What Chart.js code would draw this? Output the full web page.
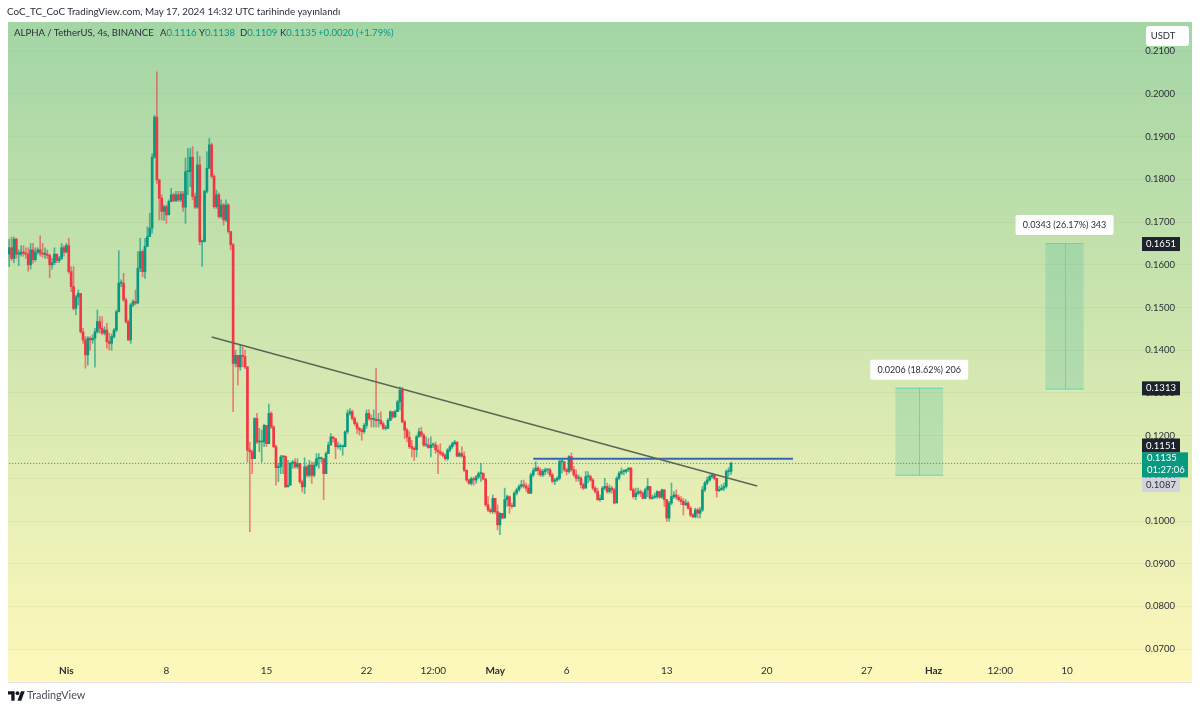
<!DOCTYPE html>
<html lang="tr">
<head>
<meta charset="UTF-8">
<title>ALPHA / TetherUS</title>
<script src="https://cdn.jsdelivr.net/npm/chart.js"></script>
<style>
  html, body { margin: 0; background: #fff; }
  #wrap { position: relative; width: 1200px; height: 710px; overflow: hidden; font-family: Lato, sans-serif; color: #2a2e39; }
  canvas { position: absolute; left: 0; top: 0; }
  .txt { position: absolute; white-space: pre; font-size: 9.8px; line-height: 12px; }
  .up { color: #089981; }
  .leg { top: 27px; font-size: 9.600px; }
</style>
</head>
<body>
<div id="wrap">
  <canvas id="grafik" width="1200" height="710"></canvas>
  <div class="txt" style="left:7px;top:5px">CoC_TC_CoC TradingView.com, May 17, 2024 14:32 UTC tarihinde yayınlandı</div>
  <div class="txt leg" style="left:14px">ALPHA / TetherUS, 4s, BINANCE</div>
  <div class="txt leg" style="left:160px">A<span class="up">0.1116</span></div>
  <div class="txt leg" style="left:199px">Y<span class="up">0.1138</span></div>
  <div class="txt leg" style="left:240px">D<span class="up">0.1109</span></div>
  <div class="txt leg" style="left:280px">K<span class="up">0.1135</span></div>
  <div class="txt leg up" style="left:318px">+0.0020 (+1.79%)</div>
  <svg style="position:absolute;left:8px;top:691px" width="17" height="10" viewBox="0 0 36 20"><path fill="#131722" d="M14 20H7V7H0V0h14zM28 20h-8L27.500 0h8z"/><circle fill="#131722" cx="20" cy="4" r="4"/></svg>
  <div class="txt" style="left:27px;top:689px;font-size:10.800px;color:#4a4e59">TradingView</div>
</div>

<script>
// 4h candles, one slot per 4 hours from 28 Mar
const slotCount = 497;
const categories = [];
for (let i = 0; i < slotCount; i++) {
  categories.push(new Date(Date.UTC(2024, 2, 28, i * 4)).toISOString());
}

const closes = [
  .1640,.1615,.1660,.1625,.1625,.1630,.1627,.1625,.1600,.1635,
  .1612,.1630,.1635,.1627,.1625,.1625,.1622,.1600,.1605,.1625,
  .1610,.1615,.1640,.1630,.1645,.1584,.1549,.1498,.1525,.1533,
  .1443,.1424,.1389,.1428,.1424,.1428,.1443,.1467,.1451,.1440,
  .1447,.1420,.1416,.1432,.1447,.1490,.1557,.1557,.1518,.1467,
  .1424,.1506,.1514,.1510,.1592,.1631,.1584,.1643,.1666,.1686,
  .1852,.1946,.1799,.1756,.1725,.1736,.1717,.1748,.1764,.1750,
  .1764,.1752,.1766,.1735,.1818,.1818,.1852,.1760,.1735,.1834,
  .1654,.1654,.1772,.1826,.1881,.1807,.1736,.1764,.1713,.1740,
  .1705,.1740,.1678,.1647,.1369,.1388,.1361,.1388,.1385,.1361,
  .1166,.1162,.1146,.1240,.1185,.1185,.1185,.1224,.1181,.1252,
  .1220,.1174,.1125,.1127,.1150,.1152,.1080,.1084,.1135,.1138,
  .1127,.1135,.1092,.1080,.1127,.1107,.1131,.1107,.1131,.1146,
  .1146,.1146,.1111,.1158,.1178,.1197,.1193,.1174,.1174,.1174,
  .1174,.1209,.1252,.1256,.1240,.1228,.1217,.1213,.1209,.1224,
  .1252,.1240,.1238,.1238,.1235,.1236,.1228,.1217,.1217,.1236,
  .1256,.1244,.1256,.1279,.1306,.1232,.1213,.1196,.1174,.1170,
  .1167,.1197,.1209,.1201,.1178,.1178,.1172,.1178,.1178,.1166,
  .1162,.1158,.1154,.1146,.1166,.1174,.1181,.1185,.1152,.1158,
  .1152,.1119,.1096,.1088,.1099,.1096,.1103,.1111,.1112,.1098,
  .1038,.1026,.1022,.1053,.1022,.0991,.1018,.1007,.1050,.1057,
  .1036,.1034,.1065,.1073,.1081,.1085,.1082,.1077,.1065,.1108,
  .1118,.1124,.1118,.1108,.1116,.1120,.1120,.1108,.1093,.1096,
  .1100,.1139,.1139,.1120,.1116,.1151,.1120,.1108,.1100,.1100,
  .1085,.1077,.1104,.1104,.1096,.1077,.1069,.1050,.1050,.1077,
  .1081,.1069,.1077,.1073,.1042,.1100,.1112,.1116,.1116,.1120,
  .1124,.1073,.1057,.1065,.1069,.1065,.1053,.1073,.1081,.1053,
  .1056,.1057,.1069,.1056,.1073,.1050,.1007,.1042,.1057,.1061,
  .1056,.1050,.1046,.1038,.1042,.1030,.1014,.1010,.1026,.1018,
  .1026,.1073,.1089,.1096,.1104,.1108,.1100,.1071,.1073,.1077,
  .1081,.1116,.1116,.1135
];
const highs = [
  .1660,.1665,.1665,.1662,.1635,.1645,.1645,.1640,.1640,.1650,
  .1650,.1640,.1640,.1668,.1650,.1640,.1635,.1625,.1615,.1640,
  .1625,.1620,.1650,.1645,.1650,.1662,.1596,.1596,.1529,.1541,
  .1533,.1451,.1432,.1432,.1432,.1436,.1451,.1494,.1479,.1479,
  .1455,.1463,.1440,.1438,.1451,.1494,.1633,.1565,.1580,.1522,
  .1471,.1510,.1518,.1541,.1631,.1662,.1635,.1662,.1689,.1721,
  .1860,.1950,.2052,.1799,.1764,.1740,.1740,.1752,.1779,.1768,
  .1772,.1772,.1772,.1772,.1850,.1873,.1873,.1877,.1768,.1865,
  .1854,.1658,.1775,.1865,.1896,.1885,.1811,.1775,.1768,.1752,
  .1744,.1752,.1744,.1678,.1650,.1400,.1388,.1412,.1408,.1400,
  .1361,.1185,.1166,.1242,.1252,.1217,.1213,.1227,.1224,.1274,
  .1256,.1224,.1178,.1135,.1154,.1154,.1146,.1142,.1138,.1142,
  .1146,.1146,.1135,.1096,.1148,.1131,.1142,.1138,.1138,.1158,
  .1158,.1150,.1146,.1162,.1185,.1205,.1197,.1193,.1185,.1181,
  .1178,.1211,.1260,.1263,.1260,.1244,.1232,.1220,.1217,.1228,
  .1260,.1261,.1248,.1260,.1357,.1252,.1256,.1232,.1224,.1240,
  .1258,.1256,.1260,.1283,.1314,.1313,.1236,.1217,.1209,.1189,
  .1174,.1201,.1217,.1220,.1205,.1197,.1193,.1197,.1183,.1185,
  .1178,.1181,.1162,.1158,.1170,.1178,.1185,.1189,.1185,.1162,
  .1174,.1162,.1119,.1099,.1103,.1103,.1107,.1115,.1135,.1112,
  .1100,.1057,.1030,.1061,.1053,.1038,.1020,.1018,.1077,.1061,
  .1059,.1042,.1069,.1077,.1085,.1095,.1096,.1089,.1085,.1112,
  .1124,.1139,.1128,.1124,.1121,.1124,.1121,.1124,.1112,.1100,
  .1104,.1143,.1143,.1139,.1124,.1153,.1159,.1128,.1120,.1108,
  .1104,.1089,.1116,.1116,.1108,.1100,.1081,.1077,.1061,.1081,
  .1100,.1089,.1085,.1081,.1077,.1104,.1116,.1124,.1120,.1121,
  .1125,.1125,.1077,.1077,.1077,.1073,.1069,.1077,.1100,.1077,
  .1061,.1065,.1071,.1069,.1075,.1073,.1050,.1046,.1089,.1069,
  .1073,.1061,.1057,.1053,.1050,.1046,.1034,.1018,.1030,.1030,
  .1032,.1081,.1093,.1103,.1108,.1112,.1108,.1100,.1081,.1085,
  .1089,.1120,.1125,.1138
];
const lows = [
  .1596,.1610,.1605,.1615,.1598,.1620,.1620,.1615,.1585,.1590,
  .1603,.1608,.1625,.1620,.1618,.1615,.1615,.1570,.1590,.1600,
  .1605,.1605,.1612,.1620,.1628,.1580,.1537,.1494,.1483,.1506,
  .1440,.1416,.1358,.1365,.1400,.1416,.1360,.1440,.1440,.1436,
  .1436,.1404,.1400,.1400,.1428,.1443,.1490,.1549,.1514,.1463,
  .1422,.1416,.1502,.1506,.1510,.1584,.1572,.1568,.1643,.1674,
  .1674,.1850,.1790,.1705,.1705,.1704,.1697,.1717,.1748,.1748,
  .1748,.1748,.1748,.1725,.1697,.1764,.1783,.1752,.1732,.1732,
  .1647,.1596,.1654,.1768,.1826,.1803,.1732,.1732,.1709,.1709,
  .1693,.1701,.1674,.1635,.1256,.1361,.1318,.1353,.1361,.1357,
  .1138,.0975,.1111,.1146,.1181,.1162,.1138,.1174,.1174,.1181,
  .1217,.1172,.1084,.1092,.1111,.1111,.1078,.1080,.1084,.1123,
  .1123,.1123,.1088,.1068,.1064,.1103,.1103,.1088,.1103,.1127,
  .1123,.1138,.1050,.1111,.1158,.1178,.1185,.1146,.1170,.1166,
  .1154,.1174,.1205,.1248,.1236,.1224,.1205,.1201,.1189,.1205,
  .1217,.1236,.1220,.1220,.1220,.1220,.1224,.1214,.1213,.1217,
  .1235,.1240,.1242,.1256,.1260,.1230,.1193,.1185,.1170,.1150,
  .1142,.1150,.1197,.1197,.1174,.1174,.1170,.1150,.1172,.1158,
  .1111,.1154,.1150,.1142,.1142,.1162,.1170,.1178,.1150,.1150,
  .1149,.1115,.1092,.1086,.1084,.1084,.1088,.1099,.1093,.1096,
  .1034,.1022,.1018,.1018,.1018,.0979,.0968,.1005,.1007,.1034,
  .1018,.1030,.1034,.1061,.1069,.1077,.1077,.1069,.1064,.1064,
  .1104,.1116,.1108,.1104,.1104,.1108,.1112,.1104,.1089,.1085,
  .1093,.1096,.1112,.1116,.1108,.1112,.1116,.1104,.1093,.1093,
  .1077,.1073,.1077,.1089,.1093,.1073,.1065,.1048,.1046,.1050,
  .1073,.1065,.1065,.1065,.1040,.1061,.1096,.1108,.1108,.1112,
  .1116,.1071,.1053,.1050,.1061,.1057,.1052,.1053,.1057,.1051,
  .1051,.1053,.1053,.1053,.1053,.1034,.0999,.0999,.1038,.1053,
  .1051,.1046,.1038,.1014,.1036,.1028,.1010,.1007,.1007,.1007,
  .1007,.1022,.1069,.1085,.1093,.1100,.1096,.1056,.1069,.1073,
  .1071,.1077,.1105,.1109
];
const firstOpen = .1625;
const opens = closes.map((c, i) => i ? closes[i - 1] : firstOpen);

const priceTicks = [.07,.08,.09,.10,.11,.12,.13,.14,.15,.16,.17,.18,.19,.20,.21];
const tickSlots = [24,66,108,150,178,204,234,276,318,360,388,416,444];
const tickLabels = ['Nis','8','15','22','12:00','May','6','13','20','27','Haz','12:00','10'];
const boldTicks = ['Nis','May','Haz'];

const trendSlots = [85, 314];
const trendValues = [.1431, .1082];
const levelSlots = [220, 329];
const levelValues = [.1146, .1146];
const lastPrice = .1135;

const measureStart = [372, 435];
const measureEnd = [392, 451];
const measureFrom = [.1106, .1308];
const measureTo = [.1312, .1651];
const measureText = ['0.0206 (18.62%) 206', '0.0343 (26.17%) 343'];

const axisPrices = [.1651, .1313, .1151, .1087];

const UP = '#089981', DOWN = '#f23645';
const FONT = 'Lato, sans-serif';

// background and measure boxes go under the candles
const fondo = {
  id: 'fondo',
  beforeDraw(chart) {
    const c = chart.ctx, y = chart.scales.y, x = chart.scales.x;
    const g = c.createLinearGradient(0, 22, 0, 682);
    g.addColorStop(0, '#a3d5a5');
    g.addColorStop(1, '#fff8bb');
    c.fillStyle = g;
    c.fillRect(8, 22, 1184, 660);
    c.fillStyle = '#e4e5ea';
    c.fillRect(8, 682, 1184, 1);
    measureStart.forEach((s, i) => {
      const x0 = x.getPixelForValue(s), x1 = x.getPixelForValue(measureEnd[i]);
      const y0 = y.getPixelForValue(measureTo[i]), y1 = y.getPixelForValue(measureFrom[i]);
      c.fillStyle = 'rgba(70,185,160,.24)';
      c.fillRect(x0, y0, x1 - x0, y1 - y0);
      c.fillStyle = 'rgba(95,210,180,.85)';
      c.fillRect(x0, y0, x1 - x0, 1);
      c.fillRect(x0, y1 - 1, x1 - x0, 1);
      c.fillRect(Math.round((x0 + x1) / 2), y0, 1, y1 - y0);
    });
  },
  afterDraw(chart) {
    const c = chart.ctx, y = chart.scales.y, x = chart.scales.x;
    c.textBaseline = 'middle';
    c.textAlign = 'center';
    c.font = '9px ' + FONT;
    // measure captions
    measureStart.forEach((s, i) => {
      const mid = (x.getPixelForValue(s) + x.getPixelForValue(measureEnd[i])) / 2;
      const top = y.getPixelForValue(measureTo[i]);
      c.fillStyle = '#fff';
      c.beginPath();
      c.roundRect(mid - 49, top - 28, 98, 20, 2);
      c.fill();
      c.fillStyle = '#2a2e39';
      c.fillText(measureText[i], mid, top - 18);
    });
    // price scale boxes
    c.font = '9.5px ' + FONT;
    axisPrices.forEach(p => {
      const py = y.getPixelForValue(p) + (p === .1151 ? -11 : 1);
      c.fillStyle = p === .1087 ? '#d1d4dc' : '#1e222d';
      c.fillRect(1142, py - 7, 38, 14);
      c.fillStyle = p === .1087 ? '#2a2e39' : '#fff';
      c.fillText(p.toFixed(4), 1161, py);
    });
    const ly = y.getPixelForValue(lastPrice) + 1;
    c.fillStyle = UP;
    c.fillRect(1142, ly - 12, 46, 25);
    c.fillStyle = '#fff';
    c.textAlign = 'left';
    c.fillText(lastPrice.toFixed(4), 1147, ly - 6);
    c.fillText('01:27:06', 1147, ly + 6);
    // unit button
    c.fillStyle = '#fff';
    c.beginPath();
    c.roundRect(1146, 26, 43, 20, 3);
    c.fill();
    c.fillStyle = '#2a2e39';
    c.textAlign = 'center';
    c.fillText('USDT', 1163, 36);
  }
};

new Chart(document.getElementById('grafik'), {
  type: 'bar',
  data: {
    labels: categories,
    datasets: [
      {
        label: 'fitil',
        data: lows.map((l, i) => [l, highs[i]]),
        backgroundColor: closes.map((c, i) => c >= opens[i] ? 'rgba(8,153,129,.65)' : 'rgba(242,54,69,.6)'),
        barThickness: 1,
        order: 3
      },
      {
        label: 'ALPHA',
        data: opens.map((o, i) => [o, closes[i]]),
        backgroundColor: closes.map((c, i) => c >= opens[i] ? UP : DOWN),
        barThickness: 2,
        minBarLength: 1,
        order: 2
      },
      {
        type: 'line',
        label: 'son fiyat',
        data: [{ x: categories[0], y: lastPrice }, { x: categories[478], y: lastPrice }],
        borderColor: UP,
        borderWidth: 1,
        borderDash: [1, 2],
        pointRadius: 0,
        order: 1
      },
      {
        type: 'line',
        label: 'trend',
        data: trendSlots.map((s, i) => ({ x: categories[s], y: trendValues[i] })),
        borderColor: '#5d6655',
        borderWidth: 1.5,
        pointRadius: 0,
        order: 0
      },
      {
        type: 'line',
        label: 'seviye',
        data: levelSlots.map((s, i) => ({ x: categories[s], y: levelValues[i] })),
        borderColor: '#3a62b8',
        borderWidth: 2,
        pointRadius: 0,
        order: 0
      }
    ]
  },
  options: {
    responsive: false,
    animation: false,
    layout: { padding: { left: 8, right: 8, top: 22, bottom: 28 } },
    datasets: { bar: { grouped: false } },
    plugins: { legend: { display: false }, tooltip: { enabled: false } },
    scales: {
      x: {
        offset: true,
        grid: { display: false, drawTicks: false },
        border: { display: false },
        afterFit(s) { s.height = 22; },
        ticks: {
          autoSkip: false,
          maxRotation: 0,
          minRotation: 0,
          padding: 5,
          color: '#2a2e39',
          font: ctx => ({ family: FONT, size: 10, weight: ctx.tick && boldTicks.includes(ctx.tick.label) ? 'bold' : 'normal' }),
          callback(v, i) {
            const k = tickSlots.indexOf(i);
            return k < 0 ? '' : tickLabels[k];
          }
        }
      },
      y: {
        position: 'right',
        min: .06745,
        max: .21686,
        grid: { color: 'rgba(110,130,90,.07)', drawTicks: false },
        border: { display: false },
        afterBuildTicks(s) { s.ticks = priceTicks.map(v => ({ value: v })); },
        ticks: {
          mirror: true,
          padding: -17,
          color: '#2a2e39',
          font: { family: FONT, size: 9.5 },
          callback: v => v.toFixed(4)
        }
      }
    }
  },
  plugins: [fondo]
});
</script>
</body>
</html>
